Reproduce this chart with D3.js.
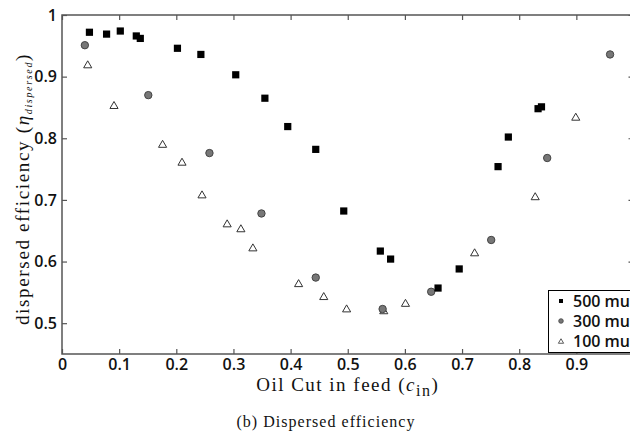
<!DOCTYPE html>
<html><head><meta charset="utf-8">
<script src="https://cdn.jsdelivr.net/npm/d3@7"></script>
<style>
body{margin:0;background:#fff;}
svg{display:block;}
.tick text{font-family:"Open Sans",sans-serif;font-size:16px;font-weight:600;fill:#111;}
</style></head>
<body>
<svg id="chart" width="630" height="432"></svg>
<script>
// ---- data ----
const sq500x = [0.048,0.078,0.102,0.130,0.137,0.202,0.243,0.304,0.355,0.395,0.444,0.493,0.557,0.575,0.658,0.695,0.763,0.781,0.833,0.839];
const sq500y = [0.972,0.969,0.974,0.966,0.962,0.946,0.936,0.903,0.865,0.819,0.782,0.682,0.617,0.604,0.557,0.588,0.754,0.802,0.848,0.851];
const ci300x = [0.040,0.151,0.258,0.349,0.444,0.561,0.646,0.751,0.849,0.959];
const ci300y = [0.951,0.870,0.776,0.678,0.574,0.523,0.551,0.635,0.768,0.936];
const tr100x = [0.045,0.091,0.176,0.210,0.245,0.289,0.313,0.334,0.414,0.458,0.498,0.563,0.601,0.722,0.828,0.899];
const tr100y = [0.920,0.854,0.791,0.762,0.709,0.662,0.654,0.623,0.565,0.544,0.524,0.521,0.533,0.615,0.706,0.835];
const xTicks = [0,0.1,0.2,0.3,0.4,0.5,0.6,0.7,0.8,0.9];
const yTicks = [0.5,0.6,0.7,0.8,0.9,1];
const legendLabels = ["500 mu","300 mu","100 mu"];

const svg = d3.select("#chart");
const L=62, R=633.5, T=15, B=354;
const x = d3.scaleLinear().domain([0,1]).range([L,R]);
const y = d3.scaleLinear().domain([0.45,1]).range([B,T]);
const axisColor = "#555";

function style(g){
  g.select(".domain").remove();
  g.selectAll(".tick line").attr("stroke",axisColor).attr("stroke-width",1.2);
}
function fit(sel, target){
  const node = sel.node();
  const n = node.textContent.length;
  const len = node.getComputedTextLength();
  sel.attr("letter-spacing", ((target-len)/n).toFixed(2));
}
// frame
svg.append("rect").attr("x",L).attr("y",T).attr("width",R-L).attr("height",B-T)
  .attr("fill","none").attr("stroke",axisColor).attr("stroke-width",1.5);

svg.append("g").attr("transform",`translate(0,${B})`)
  .call(d3.axisBottom(x).tickValues(xTicks).tickSize(-5).tickPadding(5)
    .tickFormat(d=>d===0?"0":d3.format(".1f")(d))).call(style);
svg.append("g").attr("transform",`translate(0,${T})`)
  .call(d3.axisTop(x).tickValues(xTicks.concat([1])).tickSize(-5).tickFormat("")).call(style);
svg.append("g").attr("transform",`translate(${L},0)`)
  .call(d3.axisLeft(y).tickValues(yTicks).tickSize(-5).tickPadding(5)
    .tickFormat(d=>d===1?"1":d3.format(".1f")(d))).call(style);
svg.append("g").attr("transform",`translate(${R},0)`)
  .call(d3.axisRight(y).tickValues(yTicks).tickSize(-5).tickFormat("")).call(style);

// markers
const triPath = s => `M0,${-s*0.5}L${s*0.58},${s*0.5}L${-s*0.58},${s*0.5}Z`;
svg.append("g").selectAll("path").data(d3.zip(tr100x,tr100y)).join("path")
  .attr("d",triPath(7)).attr("transform",d=>`translate(${x(d[0])},${y(d[1])})`)
  .attr("fill","#fff").attr("stroke","#333").attr("stroke-width",1);
svg.append("g").selectAll("circle").data(d3.zip(ci300x,ci300y)).join("circle")
  .attr("cx",d=>x(d[0])).attr("cy",d=>y(d[1])).attr("r",3.7)
  .attr("fill","#777").attr("stroke","#444").attr("stroke-width",1);
svg.append("g").selectAll("rect").data(d3.zip(sq500x,sq500y)).join("rect")
  .attr("x",d=>x(d[0])-3.6).attr("y",d=>y(d[1])-3.6).attr("width",7.2).attr("height",7.2)
  .attr("fill","#000");

// legend
const lg = svg.append("g");
lg.append("rect").attr("x",548.5).attr("y",290.5).attr("width",100).attr("height",62)
  .attr("fill","#fff").attr("stroke","#000").attr("stroke-width",1);
const rowY = [301,321,341];
lg.append("rect").attr("x",559).attr("y",rowY[0]-2).attr("width",4).attr("height",4).attr("fill","#000");
lg.append("circle").attr("cx",561).attr("cy",rowY[1]).attr("r",2.3).attr("fill","#777").attr("stroke","#444").attr("stroke-width",0.8);
lg.append("path").attr("d",triPath(4.5)).attr("transform",`translate(561,${rowY[2]})`)
  .attr("fill","#fff").attr("stroke","#333").attr("stroke-width",0.8);
lg.selectAll("text").data(legendLabels).join("text")
  .attr("x",573).attr("y",(d,i)=>rowY[i]).attr("dy","0.36em")
  .attr("font-family","Open Sans, sans-serif").attr("font-size",16).attr("font-weight",600)
  .attr("fill","#111").text(d=>d);

// x label
const xl = svg.append("text").attr("x",(L+R)/2).attr("y",391).attr("text-anchor","middle")
  .attr("font-family","Liberation Serif, serif").attr("font-size",19).attr("fill","#111");
xl.append("tspan").text("Oil Cut in feed (");
xl.append("tspan").attr("font-style","italic").text("c");
xl.append("tspan").attr("dy",5).attr("font-size",16).text("in");
xl.append("tspan").attr("dy",-5).text(")");
fit(xl,183);

// y label
const yl = svg.append("text").attr("transform",`translate(29,189) rotate(-90)`)
  .attr("text-anchor","middle")
  .attr("font-family","Liberation Serif, serif").attr("font-size",19).attr("fill","#111");
yl.append("tspan").text("dispersed efficiency (");
yl.append("tspan").attr("font-style","italic").text("η");
yl.append("tspan").attr("dy",3).attr("font-size",10).attr("font-style","italic").text("dispersed");
yl.append("tspan").attr("dy",-3).text(")");
fit(yl,272);

// caption
const cap = svg.append("text").attr("x",326).attr("y",427).attr("text-anchor","middle")
  .attr("font-family","Liberation Serif, serif").attr("font-size",16).attr("fill","#111")
  .text("(b) Dispersed efficiency");
fit(cap,179);
</script>
</body></html>
